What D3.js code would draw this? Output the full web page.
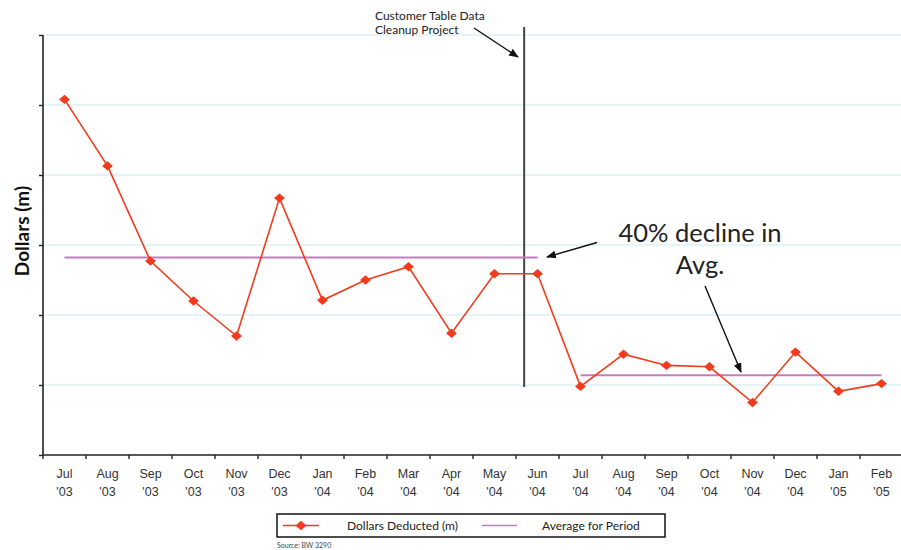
<!DOCTYPE html>
<html>
<head>
<meta charset="utf-8">
<script src="https://cdn.jsdelivr.net/npm/d3@7"></script>
<style>
  html, body { margin: 0; padding: 0; background: #fff; }
  svg { display: block; font-family: Lato, "Open Sans", sans-serif; }
</style>
</head>
<body>
<svg id="chart" width="901" height="550"></svg>
<script>
// Monthly dollars deducted (millions), Jul 2003 – Feb 2005
const months = ["Jul", "Aug", "Sep", "Oct", "Nov", "Dec", "Jan", "Feb", "Mar", "Apr",
                "May", "Jun", "Jul", "Aug", "Sep", "Oct", "Nov", "Dec", "Jan", "Feb"];
const years = ["'03", "'03", "'03", "'03", "'03", "'03", "'04", "'04", "'04", "'04",
               "'04", "'04", "'04", "'04", "'04", "'04", "'04", "'04", "'05", "'05"];
const dollars = [5.08, 4.13, 2.77, 2.20, 1.70, 3.67, 2.21, 2.50, 2.69, 1.74,
                 2.59, 2.59, 0.98, 1.44, 1.28, 1.26, 0.75, 1.47, 0.91, 1.02];
// Periods before and after the cleanup project (index ranges, inclusive)
const periods = [[0, 11], [12, 19]];
const yTicks = [0, 1, 2, 3, 4, 5, 6];
const projectPos = 10.69; // cleanup start, in month-index units

const svg = d3.select("#chart");
const plotLeft = 43, plotRight = 903, plotTop = 35, plotBottom = 455;
const keys = months.map((m, i) => i);

const x = d3.scaleBand().domain(keys).range([plotLeft, plotRight]).padding(0);
const step = x.bandwidth();
const cx = i => x(i) + step / 2;
const xLin = d3.scaleLinear().domain([0, 1]).range([cx(0), cx(1)]);
const y = d3.scaleLinear().domain([0, 6]).range([plotBottom, plotTop]);

const red = "#f23a1d";
const pink = "#c77bbf";

// Squat diamond marker (wider than tall)
const squatDiamond = {
  draw(ctx, size) {
    const h = Math.sqrt(size / 2.25);
    const w = h * 1.15;
    ctx.moveTo(0, -h);
    ctx.lineTo(w, 0);
    ctx.lineTo(0, h);
    ctx.lineTo(-w, 0);
    ctx.closePath();
  }
};
const diamond = d3.symbol().type(squatDiamond).size(50);

// Gridlines
svg.append("g")
  .selectAll("line")
  .data(yTicks.filter(v => v > 0))
  .join("line")
  .attr("x1", plotLeft).attr("x2", 901)
  .attr("y1", d => y(d)).attr("y2", d => y(d))
  .attr("stroke", "#ddf0f7").attr("stroke-width", 1.5);

// Y axis (no labels)
const yAxis = svg.append("g")
  .attr("transform", `translate(${plotLeft},0)`)
  .call(d3.axisLeft(y).tickValues(yTicks).tickSize(4).tickFormat(""));
yAxis.select(".domain").attr("stroke", "#222").attr("stroke-width", 1.6).attr("d", `M0,${plotTop}V${plotBottom}`);
yAxis.selectAll(".tick line").attr("stroke", "#222").attr("stroke-width", 1.4);

// X axis with boundary ticks and two-line labels
const xAxis = svg.append("g")
  .attr("transform", `translate(0,${plotBottom})`)
  .call(d3.axisBottom(x).tickSize(0).tickFormat(""));
xAxis.select(".domain").attr("stroke", "#222").attr("stroke-width", 1.6).attr("d", `M${plotLeft},0H901`);
xAxis.append("g")
  .selectAll("line")
  .data(keys)
  .join("line")
  .attr("x1", d => x(d)).attr("x2", d => x(d))
  .attr("y1", 0).attr("y2", 4)
  .attr("stroke", "#222").attr("stroke-width", 1.4);
xAxis.selectAll(".tick text")
  .attr("fill", "#333")
  .attr("font-size", 12.5)
  .attr("y", 0)
  .attr("dy", null)
  .each(function(d) {
    const t = d3.select(this);
    t.append("tspan").attr("x", 0).attr("y", 22.5).text(months[d]);
    t.append("tspan").attr("x", 0).attr("y", 41).text(years[d]);
  });

// Y axis title
svg.append("text")
  .attr("transform", "translate(29,231) rotate(-90)")
  .attr("text-anchor", "middle")
  .attr("font-size", 19)
  .attr("font-weight", "bold")
  .attr("fill", "#111")
  .text("Dollars (m)");

// Cleanup project marker
svg.append("line")
  .attr("x1", xLin(projectPos)).attr("x2", xLin(projectPos))
  .attr("y1", 27).attr("y2", y(1) + 2)
  .attr("stroke", "#444").attr("stroke-width", 2);

// Period averages
periods.forEach(([a, b]) => {
  const avg = d3.mean(dollars.slice(a, b + 1));
  svg.append("line")
    .attr("x1", cx(a)).attr("x2", cx(b))
    .attr("y1", y(avg)).attr("y2", y(avg))
    .attr("stroke", pink).attr("stroke-width", 2);
});

// Dollars deducted line and diamond markers
const line = d3.line().x((d, i) => cx(i)).y(d => y(d));
svg.append("path")
  .datum(dollars)
  .attr("d", line)
  .attr("fill", "none")
  .attr("stroke", red)
  .attr("stroke-width", 1.6);
svg.append("g")
  .selectAll("path")
  .data(dollars)
  .join("path")
  .attr("d", diamond)
  .attr("transform", (d, i) => `translate(${cx(i)},${y(d)})`)
  .attr("fill", red);

// Annotations
const defs = svg.append("defs");
defs.append("marker")
  .attr("id", "arrow")
  .attr("viewBox", "0 0 10 10")
  .attr("refX", 9).attr("refY", 5)
  .attr("markerWidth", 7).attr("markerHeight", 7)
  .attr("orient", "auto")
  .append("path")
  .attr("d", "M0,1 L10,5 L0,9 Z")
  .attr("fill", "#111");

const ann = svg.append("g").attr("fill", "#222");
const t1 = ann.append("text").attr("font-size", 12);
t1.append("tspan").attr("x", 375).attr("y", 20).text("Customer Table Data");
t1.append("tspan").attr("x", 375).attr("y", 34).text("Cleanup Project");

const t2 = ann.append("text").attr("font-size", 25.5).attr("text-anchor", "middle");
t2.append("tspan").attr("x", 700).attr("y", 242).text("40% decline in");
t2.append("tspan").attr("x", 700).attr("y", 274).text("Avg.");

const arrows = [
  [474, 28, 518, 57],
  [597, 242.5, 547, 257],
  [705, 286, 741, 372]
];
svg.append("g")
  .selectAll("line")
  .data(arrows)
  .join("line")
  .attr("x1", d => d[0]).attr("y1", d => d[1])
  .attr("x2", d => d[2]).attr("y2", d => d[3])
  .attr("stroke", "#111").attr("stroke-width", 1.4)
  .attr("marker-end", "url(#arrow)");

// Legend
const lg = svg.append("g");
lg.append("rect")
  .attr("x", 277).attr("y", 514).attr("width", 388).attr("height", 23)
  .attr("fill", "#fff").attr("stroke", "#111").attr("stroke-width", 1.5);
lg.append("line").attr("x1", 283).attr("x2", 319).attr("y1", 525.5).attr("y2", 525.5)
  .attr("stroke", red).attr("stroke-width", 1.6);
lg.append("path").attr("d", diamond).attr("transform", "translate(301,525.5)").attr("fill", red);
lg.append("text").attr("x", 347).attr("y", 530).attr("font-size", 12).attr("fill", "#222")
  .text("Dollars Deducted (m)");
lg.append("line").attr("x1", 482).attr("x2", 517).attr("y1", 525.5).attr("y2", 525.5)
  .attr("stroke", pink).attr("stroke-width", 1.6);
lg.append("text").attr("x", 542).attr("y", 530).attr("font-size", 12).attr("fill", "#222")
  .text("Average for Period");

svg.append("text")
  .attr("x", 277).attr("y", 548)
  .attr("font-size", 7).attr("fill", "#444")
  .text("Source: BW 3290");
</script>
</body>
</html>
